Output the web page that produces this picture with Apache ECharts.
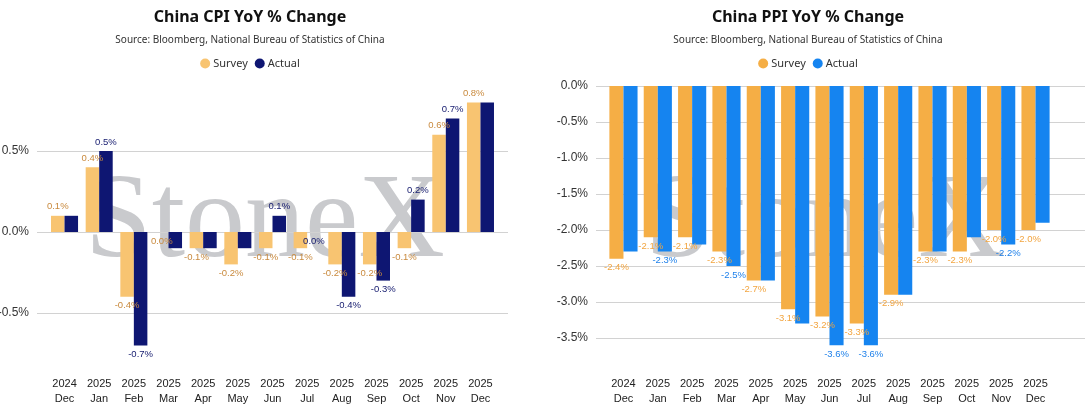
<!DOCTYPE html>
<html>
<head>
<meta charset="utf-8">
<script src="https://cdn.jsdelivr.net/npm/echarts@6/dist/echarts.min.js"></script>
<style>
html,body{margin:0;padding:0;width:1085px;height:410px;overflow:hidden;background:#fff;}
#cpi{position:absolute;left:-30px;top:0;width:560px;height:410px;}
#ppi{position:absolute;left:528px;top:0;width:560px;height:410px;}
</style>
</head>
<body>
<div id="cpi"></div>
<div id="ppi"></div>
<script>
// ---- data ----
const categories = ['2024\nDec','2025\nJan','2025\nFeb','2025\nMar','2025\nApr','2025\nMay','2025\nJun','2025\nJul','2025\nAug','2025\nSep','2025\nOct','2025\nNov','2025\nDec'];
const cpiSurvey = [0.1, 0.4, -0.4, 0.0, -0.1, -0.2, -0.1, -0.1, -0.2, -0.2, -0.1, 0.6, 0.8];
const cpiActual = [0.1, 0.5, -0.7, -0.1, -0.1, -0.1, 0.1, 0.0, -0.4, -0.3, 0.2, 0.7, 0.8];
const ppiSurvey = [-2.4, -2.1, -2.1, -2.3, -2.7, -3.1, -3.2, -3.3, -2.9, -2.3, -2.3, -2.0, -2.0];
const ppiActual = [-2.3, -2.3, -2.2, -2.5, -2.7, -3.3, -3.6, -3.6, -2.9, -2.3, -2.1, -2.2, -1.9];
const cpiAxis = {min: -1.0, max: 1.0, interval: 0.5};
const ppiAxis = {min: -4.0, max: 0.0, interval: 0.5};

const pct = v => Number(v).toFixed(1) + '%';

// survey labels take priority; actual labels overlapping a survey label are hidden
function makeLabelLayout() {
  const store = [];
  return function (p) {
    const r = p.labelRect;
    if (p.seriesIndex === 0) {
      if (p.dataIndex === 0) store.length = 0;
      store.push({x: r.x, y: r.y, width: r.width, height: r.height});
      return {};
    }
    const hit = store.some(s => !(r.x + r.width <= s.x || s.x + s.width <= r.x || r.y + r.height <= s.y || s.y + s.height <= r.y));
    return hit ? {x: -2000, y: -2000} : {};
  };
}

function build(cfg) {
  const layout = makeLabelLayout();
  return {
    animation: false,
    textStyle: {fontFamily: 'Noto Sans'},
    title: {
      text: cfg.title,
      subtext: 'Source: Bloomberg, National Bureau of Statistics of China',
      left: 'center', top: 4, itemGap: 10,
      textStyle: {fontFamily: 'Noto Sans', fontSize: 16, fontWeight: 'bold', color: '#111'},
      subtextStyle: {fontFamily: 'Noto Sans', fontSize: 10, color: '#333'}
    },
    legend: {
      data: ['Survey', 'Actual'], left: 'center', top: 53,
      icon: 'circle', itemWidth: 10, itemHeight: 10, itemGap: 7,
      textStyle: {fontFamily: 'Noto Sans', fontSize: 11, color: '#333', padding: [0, 0, 0, -2]}
    },
    graphic: [{
      type: 'text', z: -10, left: cfg.wmX, top: cfg.wmY,
      style: {text: 'StoneX', font: '120px "Liberation Serif"', fill: '#c9cacd'}
    }],
    grid: [
      {left: cfg.gA[0], width: cfg.gA[1], top: cfg.top, height: cfg.height},
      {left: cfg.gB[0], width: cfg.gB[1], top: cfg.top, height: cfg.height}
    ],
    xAxis: [
      {type: 'category', gridIndex: 0, data: categories, show: false},
      {type: 'category', gridIndex: 1, data: categories,
        axisLine: {show: false}, axisTick: {show: false},
        axisLabel: {margin: cfg.xMargin, fontFamily: 'Liberation Sans', fontSize: 11, lineHeight: 15, color: '#222', interval: 0}}
    ],
    yAxis: [
      {type: 'value', gridIndex: 0, min: cfg.axis.min, max: cfg.axis.max, interval: cfg.axis.interval,
        axisLine: {show: false}, axisTick: {show: false},
        axisLabel: {formatter: pct, fontFamily: 'Liberation Sans', fontSize: 12, color: '#333', margin: 8,
          showMinLabel: false, showMaxLabel: cfg.showMax},
        splitLine: {lineStyle: {color: '#d2d2d2', width: 1}, showMinLine: false, showMaxLine: cfg.showMax}},
      {type: 'value', gridIndex: 1, min: cfg.axis.min, max: cfg.axis.max, interval: cfg.axis.interval, show: false,
        splitLine: {show: false}}
    ],
    series: [
      {name: 'Survey', type: 'bar', xAxisIndex: 1, yAxisIndex: 1, data: cfg.survey,
        barGap: '0%', barCategoryGap: cfg.gap, itemStyle: {color: cfg.c1},
        label: {show: true, position: 'outside', distance: 4, formatter: p => pct(p.value),
          fontFamily: 'Liberation Sans', fontSize: 9.5, color: cfg.l1},
        labelLayout: layout},
      {name: 'Actual', type: 'bar', xAxisIndex: 1, yAxisIndex: 1, data: cfg.actual,
        barGap: '0%', barCategoryGap: cfg.gap, itemStyle: {color: cfg.c2},
        label: {show: true, position: 'outside', distance: 4, formatter: p => pct(p.value),
          fontFamily: 'Liberation Sans', fontSize: 9.5, color: cfg.l2},
        labelLayout: layout}
    ]
  };
}

const cpiChart = echarts.init(document.getElementById('cpi'));
cpiChart.setOption(build({
  title: 'China CPI YoY % Change', survey: cpiSurvey, actual: cpiActual, axis: cpiAxis,
  gA: [67, 471], gB: [77.2, 450.6], top: 70, height: 324, xMargin: -18, showMax: false,
  gap: '22%', c1: '#F8C471', c2: '#0E1672', l1: '#C98A3E', l2: '#141a6e',
  wmX: 115, wmY: 164
}));

const ppiChart = echarts.init(document.getElementById('ppi'));
ppiChart.setOption(build({
  title: 'China PPI YoY % Change', survey: ppiSurvey, actual: ppiActual, axis: ppiAxis,
  gA: [68, 500], gB: [78.3, 446.4], top: 86, height: 288, xMargin: 2, showMax: true,
  gap: '18%', c1: '#F5AE45', c2: '#1584F0', l1: '#F2A540', l2: '#1E80EA',
  wmX: 117, wmY: 164
}));
</script>
</body>
</html>
